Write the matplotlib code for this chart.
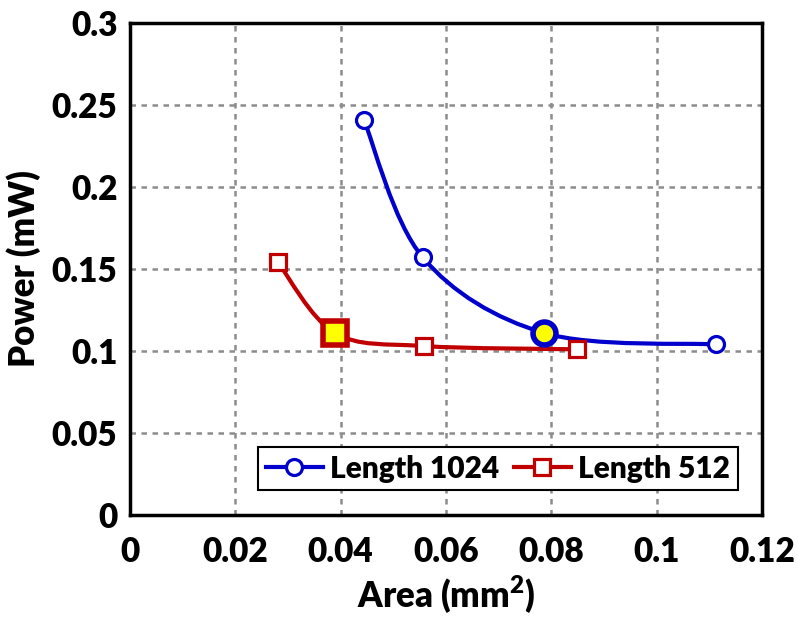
import numpy as np
import matplotlib
matplotlib.use("Agg")
import matplotlib.pyplot as plt
from matplotlib.path import Path
from matplotlib.patches import PathPatch
from matplotlib.lines import Line2D

# Data
area_1024 = [0.0444, 0.0556, 0.0786, 0.1113]
power_1024 = [0.241, 0.157, 0.111, 0.104]
area_512 = [0.0281, 0.0389, 0.0558, 0.0849]
power_512 = [0.154, 0.111, 0.103, 0.101]
hl_1024 = 2  # index of the highlighted (yellow) point
hl_512 = 1

xticks = [0, 0.02, 0.04, 0.06, 0.08, 0.1, 0.12]
xtick_labels = ["0", "0.02", "0.04", "0.06", "0.08", "0.1", "0.12"]
yticks = [0, 0.05, 0.1, 0.15, 0.2, 0.25, 0.3]
ytick_labels = ["0", "0.05", "0.1", "0.15", "0.2", "0.25", "0.3"]

plt.rcParams['font.family'] = ['Lato', 'DejaVu Sans']
plt.rcParams['font.weight'] = 'heavy'
plt.rcParams['mathtext.fontset'] = 'custom'
plt.rcParams['mathtext.bf'] = 'Lato:heavy'


def smooth_path(ax, xs, ys):
    # Excel-style smoothed line: Catmull-Rom segments as cubic Beziers,
    # built in display space so the curve shape does not depend on axis units
    pts = ax.transData.transform(np.column_stack([xs, ys]))
    n = len(pts)
    verts = [pts[0]]
    codes = [Path.MOVETO]
    for i in range(n - 1):
        p0 = pts[i - 1] if i > 0 else pts[i]
        p1, p2 = pts[i], pts[i + 1]
        p3 = pts[i + 2] if i + 2 < n else pts[i + 1]
        c1 = p1 + (p2 - p0) / 6
        c2 = p2 - (p3 - p1) / 6
        verts += [c1, c2, p2]
        codes += [Path.CURVE4] * 3
    return Path(verts, codes)


fig = plt.figure(figsize=(8, 6.19), dpi=100)
ax = fig.add_axes([0.1625, 0.168, 0.79, 0.795])
ax.set_xlim(0, 0.12)
ax.set_ylim(0, 0.3)

blue = "#0000cc"
red = "#c00000"

for xs, ys, c in [(area_1024, power_1024, blue), (area_512, power_512, red)]:
    p = smooth_path(ax, xs, ys)
    ax.add_patch(PathPatch(p, transform=None, facecolor="none", edgecolor=c,
                           lw=3, zorder=3))

ax.plot(area_1024, power_1024, ls="none", marker="o", ms=11.5, mfc="white",
        mec=blue, mew=2.3, zorder=4)
ax.plot(area_512, power_512, ls="none", marker="s", ms=11.5, mfc="white",
        mec=red, mew=2.3, zorder=4)
ax.plot(area_1024[hl_1024], power_1024[hl_1024], marker="o", ms=16.5,
        mfc="yellow", mec=blue, mew=4, zorder=5)
ax.plot(area_512[hl_512], power_512[hl_512], marker="s", ms=17,
        mfc="yellow", mec=red, mew=4, zorder=5)

ax.set_xticks(xticks)
ax.set_xticklabels(xtick_labels)
ax.set_yticks(yticks)
ax.set_yticklabels(ytick_labels)
ax.tick_params(length=0, labelsize=24)
ax.tick_params(axis="x", pad=15)
ax.tick_params(axis="y", pad=9)
ax.grid(True, color="#8c8c8c", ls=(0, (2.2, 2.2)), lw=1.8)
ax.set_axisbelow(True)
for s in ax.spines.values():
    s.set_linewidth(2.5)
    s.set_color("black")

ax.set_xlabel("Area (mm$^\\mathbf{2}$)", fontsize=25, fontweight="heavy", labelpad=4)
ax.set_ylabel("Power (mW)", fontsize=25, fontweight="heavy", labelpad=8)

handles = [
    Line2D([], [], color=blue, lw=3, marker="o", ms=11.5, mfc="white", mec=blue, mew=2.3),
    Line2D([], [], color=red, lw=3, marker="s", ms=11.5, mfc="white", mec=red, mew=2.3),
]
leg = ax.legend(handles, ["Length 1024", "Length 512"], loc="lower right",
                ncol=2, fontsize=21.5, frameon=True, fancybox=False,
                edgecolor="black", framealpha=1, handlelength=1.9,
                handletextpad=0.25, columnspacing=0.5, borderpad=0.25,
                bbox_to_anchor=(0.985, 0.02))
leg.get_frame().set_linewidth(1.5)

fig.savefig("out.png", dpi=100)
